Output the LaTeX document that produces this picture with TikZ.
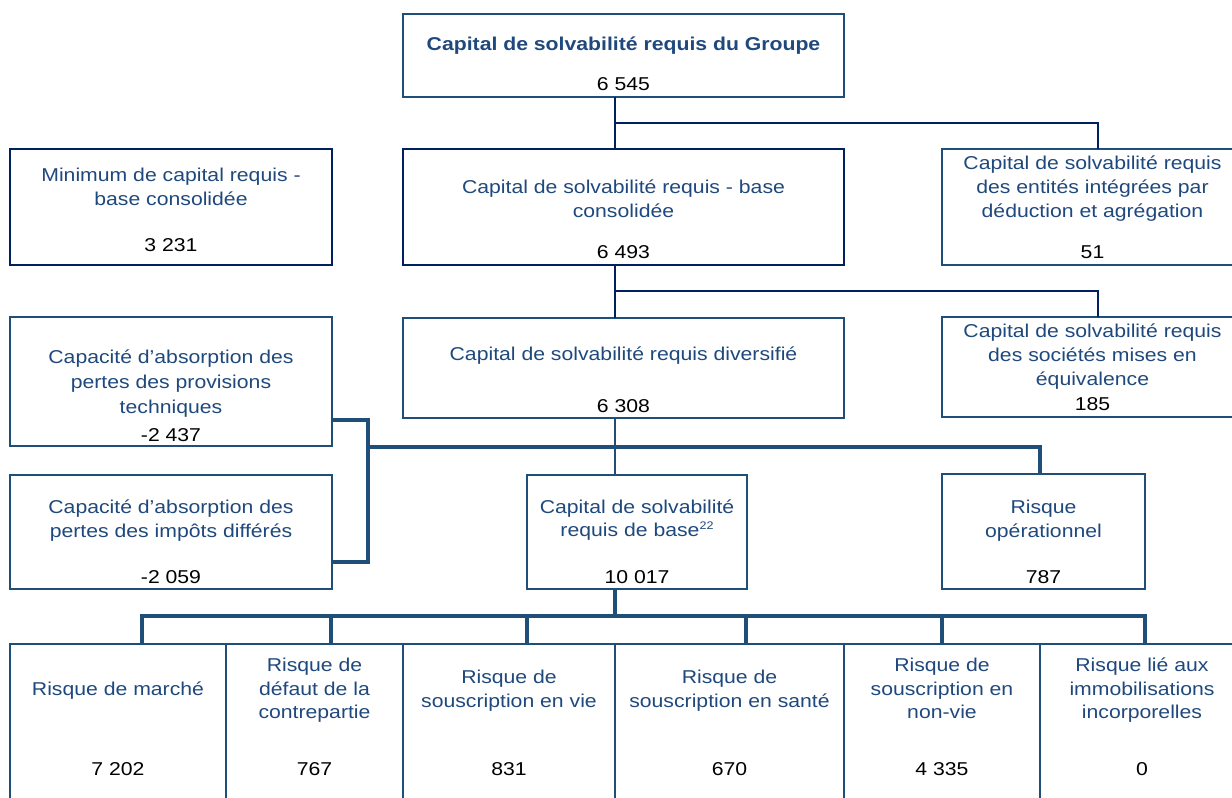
\documentclass[tikz,border=0pt]{standalone}
\usepackage{fontspec}
\setmainfont{Liberation Sans}[FakeStretch=1.14]
\usetikzlibrary{calc}
\definecolor{bxblue}{RGB}{31,78,121}
\definecolor{navy}{RGB}{0,32,96}
\definecolor{txtblue}{RGB}{31,73,125}
\tikzset{
  box/.style={draw=bxblue, line width=1.3pt, inner sep=0pt, outer sep=0pt, anchor=north west},
  nbox/.style={box, draw=navy},
  txt/.style={text=txtblue, font=\fontsize{18.6}{24}\selectfont, inner sep=0pt, anchor=base},
  num/.style={txt, text=black},
  thinn/.style={draw=navy, line width=1.3pt},
  thinb/.style={draw=bxblue, line width=1.3pt},
  thickb/.style={draw=bxblue, line width=4pt},
}
\newcommand\bx[6]{\node[#6, minimum width={(#4-#2)*1pt}, minimum height={(#5-#3)*1pt}] (#1) at (#2,#3) {};}
\newcommand\tl[5][txt]{\node[#1] (#2) at (#3,#4) {#5};}
\begin{document}
\begin{tikzpicture}[x=1pt,y=-1pt]
\clip (0,0) rectangle (1232,798);
\fill[white] (0,0) rectangle (1232,798);

% boxes
\bx{top}{403}{14}{844}{97}{box}
\bx{mincap}{10}{149}{332}{265}{nbox}
\bx{cons}{403}{149}{844}{265}{nbox}
\bx{ded}{942}{149}{1243}{265}{box}
\bx{prov}{10}{317}{332}{446}{box}
\bx{div}{403}{318}{844}{418}{box}
\bx{equi}{942}{317}{1243}{417}{box}
\bx{imp}{10}{475}{332}{589}{box}
\bx{base}{527}{475}{747}{589}{box}
\bx{oper}{942}{474}{1145}{589}{box}
\bx{marche}{10}{644}{226}{830}{box}
\bx{defaut}{226}{644}{403}{830}{box}
\bx{vie}{403}{644}{615}{830}{box}
\bx{sante}{615}{644}{844}{830}{box}
\bx{nonvie}{844}{644}{1040}{830}{box}
\bx{immo}{1040}{644}{1244}{830}{box}

% texts
\tl[txt, font=\fontsize{18.6}{24}\selectfont\bfseries]{topt}{623.5}{50}{Capital de solvabilité requis du Groupe}
\tl[num]{topn}{623.5}{90}{6 545}

\tl{mint1}{171}{181}{Minimum de capital requis -}
\tl{mint2}{171}{205}{base consolidée}
\tl[num]{minn}{171}{251}{3 231}

\tl{const1}{623.5}{193}{Capital de solvabilité requis - base}
\tl{const2}{623.5}{217}{consolidée}
\tl[num]{consn}{623.5}{258}{6 493}

\tl{dedt1}{1092.5}{169}{Capital de solvabilité requis}
\tl{dedt2}{1092.5}{193}{des entités intégrées par}
\tl{dedt3}{1092.5}{217}{déduction et agrégation}
\tl[num]{dedn}{1092.5}{258}{51}

\tl{provt1}{171}{363}{Capacité d’absorption des}
\tl{provt2}{171}{388}{pertes des provisions}
\tl{provt3}{171}{413}{techniques}
\tl[num]{provn}{171}{441}{-2 437}

\tl{divt1}{623.5}{360}{Capital de solvabilité requis diversifié}
\tl[num]{divn}{623.5}{412}{6 308}

\tl{equit1}{1092.5}{337}{Capital de solvabilité requis}
\tl{equit2}{1092.5}{361}{des sociétés mises en}
\tl{equit3}{1092.5}{385}{équivalence}
\tl[num]{equin}{1092.5}{410}{185}

\tl{impt1}{171}{513}{Capacité d’absorption des}
\tl{impt2}{171}{537}{pertes des impôts différés}
\tl[num]{impn}{171}{583}{-2 059}

\tl{baset1}{637}{513}{Capital de solvabilité}
\tl{baset2}{637}{536}{requis de base\raisebox{7pt}{\fontsize{11}{11}\selectfont 22}}
\tl[num]{basen}{637}{583}{10 017}

\tl{opert1}{1043.5}{513}{Risque}
\tl{opert2}{1043.5}{537}{opérationnel}
\tl[num]{opern}{1043.5}{583}{787}

\tl{mart1}{118}{695}{Risque de marché}
\tl[num]{marn}{118}{775}{7 202}

\tl{deft1}{314.5}{671}{Risque de}
\tl{deft2}{314.5}{695}{défaut de la}
\tl{deft3}{314.5}{718}{contrepartie}
\tl[num]{defn}{314.5}{775}{767}

\tl{viet1}{509}{683}{Risque de}
\tl{viet2}{509}{707}{souscription en vie}
\tl[num]{vien}{509}{775}{831}

\tl{sant1}{729.5}{683}{Risque de}
\tl{sant2}{729.5}{707}{souscription en santé}
\tl[num]{sann}{729.5}{775}{670}

\tl{nvt1}{942}{671}{Risque de}
\tl{nvt2}{942}{695}{souscription en}
\tl{nvt3}{942}{718}{non-vie}
\tl[num]{nvn}{942}{775}{4 335}

\tl{immt1}{1142}{671}{Risque lié aux}
\tl{immt2}{1142}{695}{immobilisations}
\tl{immt3}{1142}{718}{incorporelles}
\tl[num]{immn}{1142}{775}{0}

% junction coordinates
\coordinate (j1) at (615,123);
\coordinate (k1) at (1098,123);
\coordinate (j2) at (615,291);
\coordinate (k2) at (1098,291);
\coordinate (br1) at (368,420);
\coordinate (br2) at (368,562);
\coordinate (bus1) at (368,447);
\coordinate (bus1e) at (1040,447);
\coordinate (bus2) at (615,616);
\coordinate (d1) at (142,616);
\coordinate (d2) at (331,616);
\coordinate (d3) at (527,616);
\coordinate (d4) at (746,616);
\coordinate (d5) at (942,616);
\coordinate (d6) at (1145,616);

% thin connectors
\draw[thinn] (top.south -| j1) -- (cons.north -| j1);
\draw[thinn] (j1) -- (k1) -- (ded.north -| k1);
\draw[thinn] (cons.south -| j2) -- (div.north -| j2);
\draw[thinn] (j2) -- (k2) -- (equi.north -| k2);
\draw[thinb] (div.south -| j1) -- (base.north -| j1);

% thick connectors
\draw[thickb] (prov.east |- br1) -- (br1) -- (br2) -- (imp.east |- br2);
\draw[thickb] (bus1) -- (bus1e) -- (oper.north -| bus1e);
\draw[thickb] (base.south -| bus2) -- (bus2);
\draw[thickb] (marche.north -| d1) -- (d1) -- (d6) -- (immo.north -| d6);
\draw[thickb] (d2) -- (defaut.north -| d2);
\draw[thickb] (d3) -- (vie.north -| d3);
\draw[thickb] (d4) -- (sante.north -| d4);
\draw[thickb] (d5) -- (nonvie.north -| d5);
\end{tikzpicture}
\end{document}
